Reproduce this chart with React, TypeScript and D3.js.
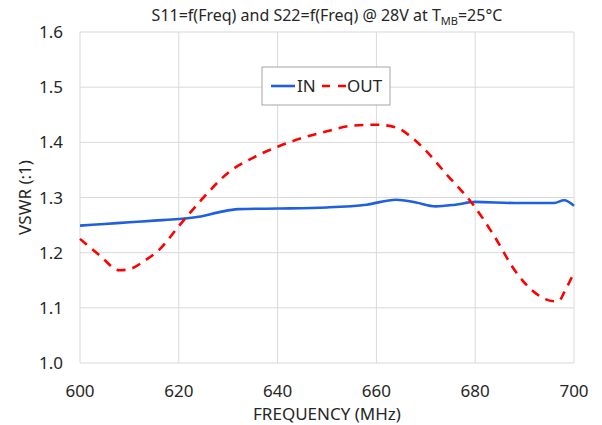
import React from "react";
import * as d3 from "d3";

const freqIn = [600, 605, 610, 615, 620, 624, 628, 632, 640, 650, 658, 664, 668, 672, 676, 680, 688, 696, 698, 700];
const vswrIn = [1.249, 1.252, 1.255, 1.258, 1.261, 1.265, 1.273, 1.279, 1.28, 1.282, 1.287, 1.296, 1.291, 1.284, 1.287, 1.292, 1.29, 1.29, 1.295, 1.285];
const freqOut = [600, 604, 608, 610, 613, 616, 620, 625, 630, 635, 640, 645, 650, 655, 660, 664, 667, 670, 674, 680, 684, 688, 692, 696, 697, 698, 700];
const vswrOut = [1.225, 1.195, 1.168, 1.17, 1.185, 1.205, 1.248, 1.3, 1.345, 1.372, 1.392, 1.408, 1.42, 1.43, 1.432, 1.427, 1.41, 1.385, 1.344, 1.282, 1.228, 1.168, 1.128, 1.112, 1.113, 1.128, 1.164];
const xTicks = [600, 620, 640, 660, 680, 700];
const yTicks = [1.0, 1.1, 1.2, 1.3, 1.4, 1.5, 1.6];

const W = 602, H = 425;
const L = 80, R = 574, T = 32, B = 363;
const FONT = "'Noto Sans', sans-serif";

export default function App() {
  const x = d3.scaleLinear().domain([600, 700]).range([L, R]);
  const y = d3.scaleLinear().domain([1.0, 1.6]).range([B, T]);
  const line = d3.line<[number, number]>().x(d => x(d[0])).y(d => y(d[1])).curve(d3.curveMonotoneX);
  const inPts = freqIn.map((f, i) => [f, vswrIn[i]] as [number, number]);
  const outPts = freqOut.map((f, i) => [f, vswrOut[i]] as [number, number]);
  return (
    <svg width={W} height={H} style={{ position: "absolute", left: 0, top: 0, background: "#fff" }} fontFamily={FONT}>
      <rect x={0} y={0} width={W} height={H} fill="#fff" />
      {xTicks.map(t => (
        <line key={"gx" + t} x1={x(t)} x2={x(t)} y1={T} y2={B} stroke="#d9d9d9" strokeWidth={1} />
      ))}
      {yTicks.map(t => (
        <line key={"gy" + t} x1={L} x2={R} y1={y(t)} y2={y(t)} stroke="#d9d9d9" strokeWidth={1} />
      ))}
      {yTicks.map(t => (
        <text key={"ty" + t} x={63} y={y(t) + 6} textAnchor="end" fontSize={17} fill="#262626">{t.toFixed(1)}</text>
      ))}
      {xTicks.map(t => (
        <text key={"tx" + t} x={x(t)} y={397} textAnchor="middle" fontSize={17} fill="#262626">{t}</text>
      ))}
      <text x={(L + R) / 2} y={420} textAnchor="middle" fontSize={17} fill="#262626">FREQUENCY (MHz)</text>
      <text transform={`translate(31,${(T + B) / 2}) rotate(-90)`} textAnchor="middle" fontSize={17} fill="#262626">VSWR (:1)</text>
      <text x={(L + R) / 2} y={21} textAnchor="middle" fontSize={16} fill="#262626">
        S11=f(Freq) and S22=f(Freq) @ 28V at T<tspan fontSize={11} dy={4}>MB</tspan><tspan dy={-4}>=25°C</tspan>
      </text>
      <path d={line(inPts) || ""} fill="none" stroke="#1f5fe0" strokeWidth={2.6} />
      <path d={line(outPts) || ""} fill="none" stroke="#ff0000" strokeWidth={2.6} strokeDasharray="9,7" />
      <g>
        <rect x={262} y={67} width={128} height={38} fill="#fff" stroke="#a6a6a6" strokeWidth={1} />
        <line x1={271} x2={295} y1={86} y2={86} stroke="#1f5fe0" strokeWidth={2.6} />
        <text x={297} y={92} fontSize={17} fill="#262626">IN</text>
        <line x1={322} x2={347} y1={86} y2={86} stroke="#ff0000" strokeWidth={2.6} strokeDasharray="8,8" />
        <text x={347} y={92} fontSize={17} fill="#262626">OUT</text>
      </g>
    </svg>
  );
}
